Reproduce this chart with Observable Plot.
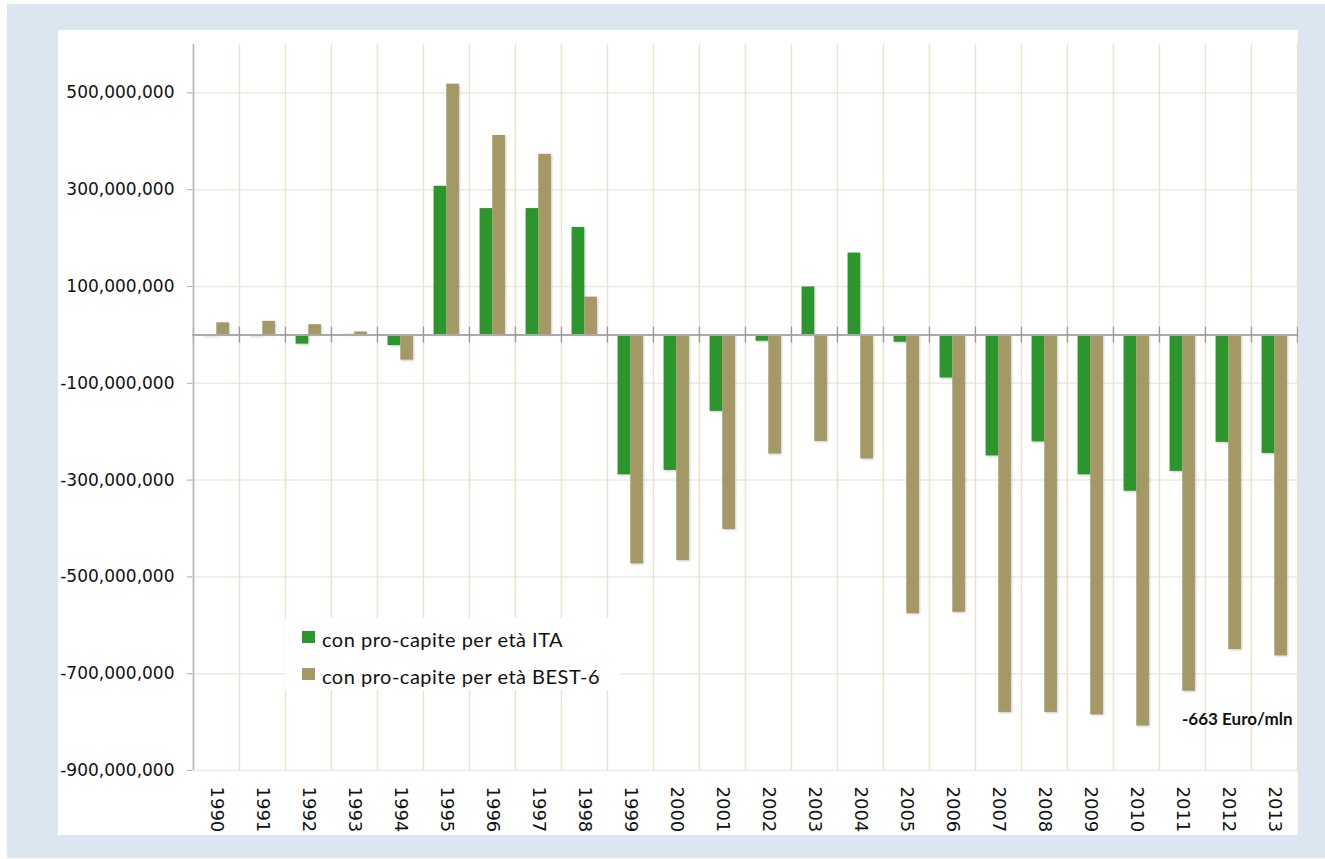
<!DOCTYPE html>
<html>
<head>
<meta charset="utf-8">
<script src="https://cdn.jsdelivr.net/npm/d3@7"></script>
<script src="https://cdn.jsdelivr.net/npm/@observablehq/plot@0.6"></script>
<style>
  html, body { margin: 0; padding: 0; background: #fff; }
  #bg { position: absolute; left: 7px; top: 4px; width: 1318px; height: 854px; background: #dce6f0; }
  #panel { position: absolute; left: 58px; top: 30px; width: 1240px; height: 805px; background: #fff; }
  #chart { position: absolute; left: 0; top: 0; }
  #legend { position: absolute; left: 227px; top: 588px; width: 335px; height: 72px; background: #fff;
            font-family: Lato, "Open Sans", sans-serif; font-size: 20px; letter-spacing: 0.5px; color: #111; }
  .item { position: absolute; left: 17px; height: 22px; line-height: 22px; white-space: nowrap; }
  .sw { position: absolute; left: 0; top: 5px; width: 13px; height: 12px; }
  .lab { position: absolute; left: 20px; top: 2px; }
  svg g[aria-label="bar"] rect { filter: drop-shadow(1px 1px 1px rgba(0,0,0,0.22)); }
</style>
</head>
<body>
<div id="bg"></div>
<div id="panel">
  <div id="chart"></div>
  <div id="legend"></div>
</div>
<script>
// Data (values in millions of euro)
const years = ["1990","1991","1992","1993","1994","1995","1996","1997","1998","1999","2000","2001",
               "2002","2003","2004","2005","2006","2007","2008","2009","2010","2011","2012","2013"];
const ita  = [-3, -3, -19, 1, -22, 307, 261, 261, 222, -289, -280, -158,
              -13, 99, 169, -15, -89, -250, -221, -289, -323, -282, -222, -245];
const best = [25, 28, 21, 6, -52, 518, 412, 373, 78, -473, -466, -402,
              -246, -220, -256, -576, -573, -780, -780, -785, -808, -736, -650, -663];
const yTicks = [-900, -700, -500, -300, -100, 100, 300, 500];
const seriesNames = ["con pro-capite per età ITA", "con pro-capite per età BEST-6"];
const seriesColors = ["#2c962c", "#a49864"];
const annotationText = `${best[best.length - 1]} Euro/mln`;

const W = 1240, H = 805, ML = 134, MR = 0, MT = 14, MB = 65;
const band = (W - ML - MR) / years.length;
const fmt = d => (d < 0 ? "-" : "") + d3.format(",")(Math.abs(d) * 1e6);

const rows = years.map((y, i) => ({year: y, ita: ita[i], best: best[i]}));

const chart = Plot.plot({
  width: W, height: H,
  marginLeft: ML, marginRight: MR, marginTop: MT, marginBottom: MB,
  style: {background: "transparent", fontFamily: "DejaVu Sans, sans-serif", color: "#111"},
  x: {domain: years, padding: 0, axis: null},
  y: {domain: [-900, 600], axis: null},
  marks: [
    Plot.ruleY(yTicks, {stroke: "#efecdf", strokeWidth: 1.5}),
    Plot.ruleX(years, {x: d => d, dx: -band / 2, stroke: "#e9e4d0", strokeWidth: 1.5}),
    Plot.ruleX([years[years.length - 1]], {x: d => d, dx: band / 2, stroke: "#e9e4d0", strokeWidth: 1.5}),
    Plot.barY(rows, {x: "year", y: "ita", fill: seriesColors[0], insetLeft: 10.6, insetRight: 22.8}),
    Plot.barY(rows, {x: "year", y: "best", fill: seriesColors[1], insetLeft: 23.3, insetRight: 10.1}),
    Plot.ruleY([0], {stroke: "#aaaaaa", strokeWidth: 2}),
    Plot.ruleX(years, {x: d => d, dx: -band / 2, y1: -17, y2: 16, stroke: "#999", strokeWidth: 1.3}),
    Plot.ruleX([years[years.length - 1]], {x: d => d, dx: band / 2, y1: -17, y2: 16, stroke: "#999", strokeWidth: 1.3}),
    Plot.ruleX([years[0]], {x: d => d, dx: -band / 2, stroke: "#b4b4b4", strokeWidth: 1.5}),
    Plot.axisY(yTicks, {tickFormat: fmt, tickSize: 5, tickPadding: 13, stroke: "#aaa", fill: "#111",
                        fontSize: 17, fontFamily: "DejaVu Sans, sans-serif", label: null}),
    Plot.axisX({tickRotate: 90, tickSize: 0, tickPadding: 16, fontSize: 18, fill: "#111",
                fontFamily: "DejaVu Sans, sans-serif", label: null}),
    Plot.text([{year: years[years.length - 1], v: -795}], {
      x: "year", y: "v", text: () => annotationText, textAnchor: "end", dx: 18,
      fontWeight: "bold", fontSize: 17, fontFamily: "Lato, sans-serif", fill: "#111"
    })
  ]
});
document.getElementById("chart").appendChild(chart);

// Legend
const legend = document.getElementById("legend");
seriesNames.forEach((name, i) => {
  const item = document.createElement("div");
  item.className = "item";
  item.style.top = (8 + i * 37) + "px";
  item.innerHTML = `<span class="sw" style="background:${seriesColors[i]}"></span><span class="lab">${name}</span>`;
  legend.appendChild(item);
});
</script>
</body>
</html>
